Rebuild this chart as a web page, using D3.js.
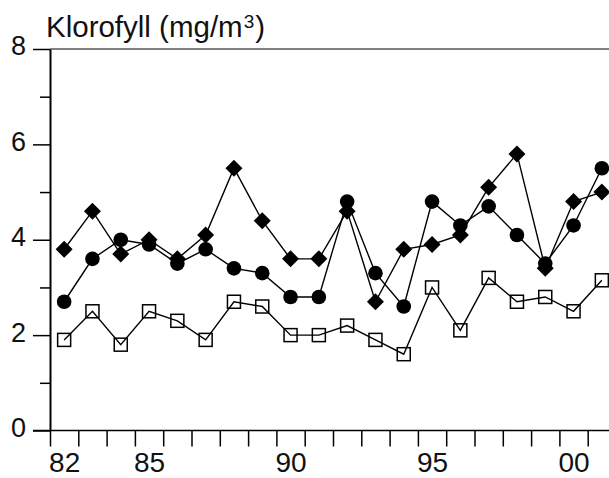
<!DOCTYPE html>
<html>
<head>
<meta charset="utf-8">
<script src="https://cdn.jsdelivr.net/npm/d3@7"></script>
<style>
  html, body { margin: 0; padding: 0; background: #fff; }
  svg { display: block; font-family: "Liberation Sans", Arial, Helvetica, sans-serif; }
</style>
</head>
<body>
<svg id="chart" width="609" height="478"></svg>
<script>
// Annual mean chlorophyll, 1982–2001
const years = d3.range(1982, 2002);
const seriesDiamond = [3.8, 4.6, 3.7, 4.0, 3.6, 4.1, 5.5, 4.4, 3.6, 3.6, 4.6, 2.7, 3.8, 3.9, 4.1, 5.1, 5.8, 3.4, 4.8, 5.0];
const seriesCircle  = [2.7, 3.6, 4.0, 3.9, 3.5, 3.8, 3.4, 3.3, 2.8, 2.8, 4.8, 3.3, 2.6, 4.8, 4.3, 4.7, 4.1, 3.5, 4.3, 5.5];
const seriesSquare  = [1.9, 2.5, 1.8, 2.5, 2.3, 1.9, 2.7, 2.6, 2.0, 2.0, 2.2, 1.9, 1.6, 3.0, 2.1, 3.2, 2.7, 2.8, 2.5, 3.15];
const yMajorTicks = [0, 2, 4, 6, 8];
const yMinorTicks = [1, 3, 5, 7];
const xLabelYears = [1982, 1985, 1990, 1995, 2000];
const yTitle = "Klorofyll (mg/m";
const yTitleSup = "3";

const svg = d3.select("#chart");
const plotLeft = 50, plotBottom = 430.5, plotTop = 49;
const step = 28.3;

const x = d3.scaleLinear().domain([1981.5, 2001.5]).range([plotLeft, plotLeft + 20 * step]);
const y = d3.scaleLinear().domain([0, 8]).range([plotBottom, plotTop]);

// top frame line
svg.append("line")
  .attr("x1", plotLeft).attr("x2", 609)
  .attr("y1", y(8)).attr("y2", y(8))
  .attr("stroke", "#808080").attr("stroke-width", 2);

// x axis: tick marks at year boundaries, labels centred on years
const xTicks = svg.append("g").attr("transform", `translate(0,${plotBottom})`)
  .call(d3.axisBottom(x)
    .tickValues(years.map(d => d - 0.5))
    .tickSize(16).tickSizeOuter(0).tickFormat(""));
xTicks.select(".domain").remove();
xTicks.selectAll(".tick line").attr("stroke", "#000").attr("stroke-width", 1.5);

const xLabels = svg.append("g").attr("transform", `translate(0,${plotBottom})`)
  .call(d3.axisBottom(x)
    .tickValues(xLabelYears)
    .tickSize(0).tickPadding(22)
    .tickFormat(d => String(d % 100).padStart(2, "0")));
xLabels.select(".domain").remove();
xLabels.selectAll("text").attr("font-size", 28).attr("fill", "#111")
  .attr("font-family", "'Liberation Sans', Arial, sans-serif");

svg.append("line")
  .attr("x1", 33).attr("x2", 609)
  .attr("y1", plotBottom).attr("y2", plotBottom)
  .attr("stroke", "#000").attr("stroke-width", 1.5);

// y axis
const yAxis = svg.append("g").attr("transform", `translate(${plotLeft},0)`)
  .call(d3.axisLeft(y).tickValues(yMajorTicks).tickSize(17).tickPadding(7).tickSizeOuter(0));
yAxis.select(".domain").attr("stroke", "#000").attr("stroke-width", 2);
yAxis.selectAll(".tick line").attr("stroke", "#000").attr("stroke-width", 1.5);
yAxis.selectAll("text").attr("font-size", 27).attr("fill", "#111")
  .attr("dy", "0.22em")
  .attr("font-family", "'Liberation Sans', Arial, sans-serif");

const yMinor = svg.append("g").attr("transform", `translate(${plotLeft},0)`)
  .call(d3.axisLeft(y).tickValues(yMinorTicks).tickSize(10).tickFormat("").tickSizeOuter(0));
yMinor.select(".domain").remove();
yMinor.selectAll(".tick line").attr("stroke", "#000").attr("stroke-width", 1.5);

// axis title
const title = svg.append("text")
  .attr("x", 46).attr("y", 37)
  .attr("font-size", 29.5).attr("fill", "#111");
title.append("tspan").text(yTitle);
title.append("tspan").attr("font-size", 19).attr("dy", -9).attr("dx", 1).text(yTitleSup);
title.append("tspan").attr("dy", 9).attr("dx", 1).text(")");

// series
const line = d3.line().x((d, i) => x(years[i])).y(d => y(d));
const plot = svg.append("g");

function drawLine(values) {
  plot.append("path").datum(values)
    .attr("d", line)
    .attr("fill", "none").attr("stroke", "#000").attr("stroke-width", 1.4);
}

drawLine(seriesDiamond);
drawLine(seriesCircle);
drawLine(seriesSquare);

const dw = 8.5, dh = 8.5;
plot.selectAll(".diamond").data(seriesDiamond).enter().append("path")
  .attr("class", "diamond")
  .attr("d", (d, i) => {
    const cx = x(years[i]), cy = y(d);
    return `M${cx},${cy - dh}L${cx + dw},${cy}L${cx},${cy + dh}L${cx - dw},${cy}Z`;
  })
  .attr("fill", "#000");

plot.selectAll(".dot").data(seriesCircle).enter().append("circle")
  .attr("class", "dot")
  .attr("cx", (d, i) => x(years[i])).attr("cy", d => y(d))
  .attr("r", 7.3).attr("fill", "#000");

const sq = 13;
plot.selectAll(".sq").data(seriesSquare).enter().append("rect")
  .attr("class", "sq")
  .attr("x", (d, i) => x(years[i]) - sq / 2).attr("y", d => y(d) - sq / 2)
  .attr("width", sq).attr("height", sq)
  .attr("fill", "none").attr("stroke", "#000").attr("stroke-width", 1.5);
</script>
</body>
</html>
